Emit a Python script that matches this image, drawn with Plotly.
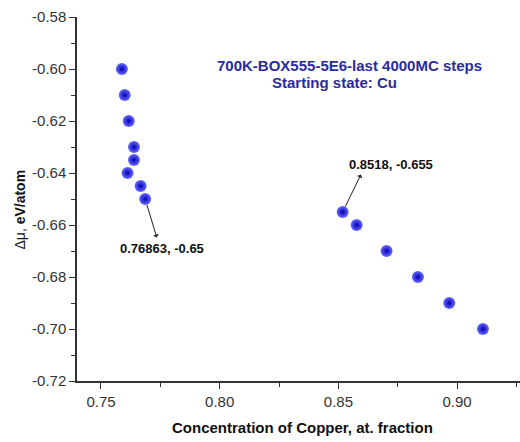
import plotly.graph_objects as go

# Chemical potential difference vs. Cu concentration (700 K, last 4000 MC steps)
conc_cu = [0.7588, 0.7600, 0.7617, 0.7639, 0.7639, 0.7612, 0.7667, 0.76863,
           0.8518, 0.8577, 0.8703, 0.8835, 0.8967, 0.9109]
delta_mu = [-0.600, -0.610, -0.620, -0.630, -0.635, -0.640, -0.645, -0.650,
            -0.655, -0.660, -0.670, -0.680, -0.690, -0.700]

x_ticks = [0.75, 0.80, 0.85, 0.90]
y_ticks = [-0.72, -0.70, -0.68, -0.66, -0.64, -0.62, -0.60, -0.58]

# labelled points: (x, y, label text)
labelled = [(0.76863, -0.65, "0.76863, -0.65"), (0.8518, -0.655, "0.8518, -0.655")]

FONT = "Liberation Sans, Arial, sans-serif"
AXIS_COLOR = "#333333"

fig = go.Figure()
fig.add_trace(go.Scatter(
    x=conc_cu, y=delta_mu, mode="markers",
    marker=dict(size=12, color="#6a6aff",
                gradient=dict(type="radial", color="#0000b4"),
                line=dict(width=0)),
    hoverinfo="x+y", showlegend=False,
))

# label offsets (pixels) for text and arrow tip
text_shift = [(17, -49), (48, 48)]
arrow_tip = [(12, 40), (19, -39)]
for (lx, ly, txt), (sx, sy), (axp, ayp) in zip(labelled, text_shift, arrow_tip):
    fig.add_annotation(x=lx, y=ly, text="", showarrow=True, ax=axp, ay=ayp,
                       arrowside="start", arrowhead=2, arrowsize=1.1, arrowwidth=1,
                       arrowcolor="#222222", standoff=6, startstandoff=0)
    fig.add_annotation(x=lx, y=ly, text=f"<b>{txt}</b>", showarrow=False,
                       xshift=sx, yshift=sy,
                       font=dict(family=FONT, size=13, color="#111111"))

TITLE_COLOR = "#2b2b9e"
fig.add_annotation(xref="paper", yref="paper", x=0.616, y=0.868,
                   xanchor="center", yanchor="middle",
                   text="<b>700K-BOX555-5E6-last 4000MC steps</b>", showarrow=False,
                   font=dict(family=FONT, size=15, color=TITLE_COLOR))
fig.add_annotation(xref="paper", yref="paper", x=0.582, y=0.819,
                   xanchor="center", yanchor="middle",
                   text="<b>Starting state: Cu</b>", showarrow=False,
                   font=dict(family=FONT, size=15, color=TITLE_COLOR))

# axis titles
fig.add_annotation(xref="paper", yref="paper", x=0.508, y=-0.129,
                   xanchor="center", yanchor="middle",
                   text="<b>Concentration of Copper, at. fraction</b>", showarrow=False,
                   font=dict(family=FONT, size=15, color="#111111"))
fig.add_annotation(xref="paper", yref="paper", x=-0.1287, y=0.471, textangle=-90,
                   xanchor="center", yanchor="middle",
                   text="Δμ, <b>eV/atom</b>", showarrow=False,
                   font=dict(family=FONT, size=14, color="#111111"))

axis_common = dict(
    showgrid=False, zeroline=False, showline=True, linecolor=AXIS_COLOR, linewidth=1.5,
    ticks="outside", ticklen=6, tickwidth=1.2, tickcolor=AXIS_COLOR,
    tickfont=dict(family=FONT, size=15, color="#333333"),
    minor=dict(ticks="outside", ticklen=4, tickwidth=1.2, tickcolor=AXIS_COLOR, showgrid=False),
)

fig.update_xaxes(range=[0.7399, 0.9265], tickvals=x_ticks,
                 ticktext=[f"{v:.2f}" for v in x_ticks],
                 minor_dtick=0.025, minor_tick0=0.75, **axis_common)
fig.update_yaxes(range=[-0.72, -0.58], tickvals=y_ticks,
                 ticktext=[f"{v:.2f}" for v in y_ticks],
                 minor_dtick=0.01, minor_tick0=-0.72, **axis_common)

fig.update_layout(
    width=520, height=442,
    margin=dict(l=77, r=0, t=17, b=61),
    plot_bgcolor="white", paper_bgcolor="white",
    font=dict(family=FONT),
)

fig.write_html("out.html")
